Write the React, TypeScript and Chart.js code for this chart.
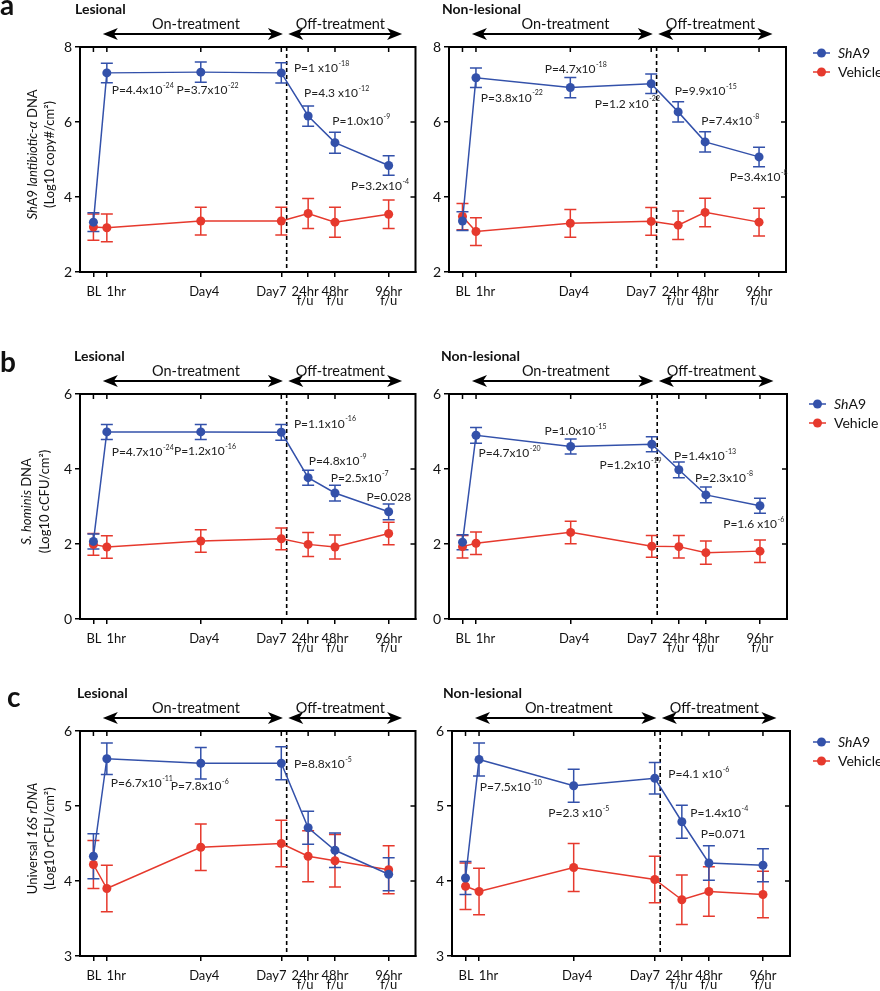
import React, { useEffect, useRef } from "react";
import { Chart, registerables } from "chart.js";
Chart.register(...registerables);

const FONT = "Lato, 'Open Sans', sans-serif";
const BLUE = "#3351aa";
const RED = "#e6392d";
const INK = "#111";

// ---- shared time axis ----
const days = [0, 0.5, 4, 7, 8, 9, 11];
const dayLabels = [["BL"], ["1hr"], ["Day4"], ["Day7"], ["24hr", "f/u"], ["48hr", "f/u"], ["96hr", "f/u"]];

// ---- panel a: ShA9 lantibiotic-alpha DNA ----
const aLesShA9 = [3.33, 7.31, 7.33, 7.31, 6.16, 5.45, 4.84];
const aLesShA9Err = [0.25, 0.26, 0.27, 0.27, 0.27, 0.28, 0.26];
const aLesVehicle = [3.2, 3.18, 3.36, 3.36, 3.56, 3.33, 3.54];
const aLesVehicleErr = [0.35, 0.37, 0.37, 0.37, 0.4, 0.4, 0.38];
const aNonShA9 = [3.36, 7.18, 6.92, 7.02, 6.27, 5.47, 5.07];
const aNonShA9Err = [0.25, 0.26, 0.27, 0.26, 0.27, 0.27, 0.26];
const aNonVehicle = [3.48, 3.08, 3.3, 3.35, 3.25, 3.59, 3.33];
const aNonVehicleErr = [0.35, 0.37, 0.37, 0.37, 0.38, 0.38, 0.37];

// ---- panel b: S. hominis DNA ----
const bLesShA9 = [2.07, 4.99, 4.99, 4.98, 3.77, 3.36, 2.86];
const bLesShA9Err = [0.2, 0.2, 0.2, 0.21, 0.2, 0.21, 0.21];
const bLesVehicle = [1.99, 1.92, 2.08, 2.14, 1.99, 1.92, 2.28];
const bLesVehicleErr = [0.29, 0.3, 0.3, 0.29, 0.32, 0.32, 0.3];
const bNonShA9 = [2.05, 4.9, 4.6, 4.66, 3.98, 3.31, 3.02];
const bNonShA9Err = [0.2, 0.21, 0.2, 0.2, 0.21, 0.21, 0.2];
const bNonVehicle = [1.93, 2.02, 2.31, 1.94, 1.93, 1.77, 1.81];
const bNonVehicleErr = [0.3, 0.3, 0.3, 0.29, 0.3, 0.31, 0.3];

// ---- panel c: Universal 16S rDNA ----
const cLesShA9 = [4.33, 5.63, 5.57, 5.57, 4.71, 4.41, 4.09];
const cLesShA9Err = [0.3, 0.21, 0.21, 0.22, 0.22, 0.23, 0.22];
const cLesVehicle = [4.22, 3.9, 4.45, 4.5, 4.33, 4.27, 4.15];
const cLesVehicleErr = [0.32, 0.31, 0.31, 0.31, 0.34, 0.35, 0.32];
const cNonShA9 = [4.04, 5.62, 5.27, 5.37, 4.79, 4.24, 4.21];
const cNonShA9Err = [0.22, 0.22, 0.22, 0.21, 0.22, 0.23, 0.22];
const cNonVehicle = [3.93, 3.86, 4.18, 4.02, 3.75, 3.86, 3.82];
const cNonVehicleErr = [0.31, 0.31, 0.32, 0.31, 0.33, 0.33, 0.31];

// ---- P-value annotations (text, exponent) ----
const aLesPText = ["P=4.4x10", "P=3.7x10", "P=1 x10", "P=4.3 x10", "P=1.0x10", "P=3.2x10"];
const aLesPExp = ["-24", "-22", "-18", "-12", "-9", "-4"];
const aNonPText = ["P=3.8x10", "P=4.7x10", "P=1.2 x10", "P=9.9x10", "P=7.4x10", "P=3.4x10"];
const aNonPExp = ["-22", "-18", "-22", "-15", "-8", "-8"];
const bLesPText = ["P=4.7x10", "P=1.2x10", "P=1.1x10", "P=4.8x10", "P=2.5x10", "P=0.028"];
const bLesPExp = ["-24", "-16", "-16", "-9", "-7", ""];
const bNonPText = ["P=4.7x10", "P=1.0x10", "P=1.2x10", "P=1.4x10", "P=2.3x10", "P=1.6 x10"];
const bNonPExp = ["-20", "-15", "-19", "-13", "-8", "-6"];
const cLesPText = ["P=6.7x10", "P=7.8x10", "P=8.8x10"];
const cLesPExp = ["-11", "-6", "-5"];
const cNonPText = ["P=7.5x10", "P=2.3 x10", "P=4.1 x10", "P=1.4x10", "P=0.071"];
const cNonPExp = ["-10", "-5", "-6", "-4", ""];

// annotation anchor positions (in axis units), kept apart from the data
const aLesPPos = [[0.68, 6.84], [3.1, 6.84], [7.47, 7.44], [7.85, 6.76], [8.9, 6.02], [9.6, 4.28]];
const aNonPPos = [[0.68, 6.65], [3.05, 7.41], [4.91, 6.49], [7.87, 6.82], [8.86, 6.02], [9.91, 4.52]];
const bLesPPos = [[0.68, 4.44], [3.0, 4.47], [7.47, 5.21], [8.02, 4.2], [8.84, 3.76], [10.17, 3.24]];
const bNonPPos = [[0.59, 4.42], [3.03, 5.02], [5.07, 4.1], [7.82, 4.34], [8.6, 3.76], [9.64, 2.54]];
const cLesPPos = [[0.65, 5.3], [2.88, 5.26], [7.47, 5.56]];
const cNonPPos = [[0.53, 5.25], [3.06, 4.9], [7.5, 5.42], [8.31, 4.9], [8.7, 4.62]];

// layout / style constants
const labelNudge = [0.5, 9.5, 3.5, -10, -3, 0, 0];
const PLOT_TOP = 47;
const PLOT_H = 225;
const CANVAS_H = 312;

type Seg = { t: string; i?: boolean };

interface PanelCfg {
  key: string;
  left: number;
  top: number;
  width: number;
  plotLeft: number;
  plotRight: number;
  yMin: number;
  yMax: number;
  yStep: number;
  shA9: number[];
  shA9Err: number[];
  veh: number[];
  vehErr: number[];
  title: string;
  titleX: number;
  letter?: string;
  letterX?: number;
  letterDy?: number;
  yTitle?: Seg[][];
  yTitleX?: number[];
  legend?: { dx: number; dy1: number; dy2: number };
  pText: string[];
  pExp: string[];
  pPos: number[][];
}

function segWidth(ctx: CanvasRenderingContext2D, segs: Seg[], size: number) {
  let w = 0;
  for (const s of segs) {
    ctx.font = `${s.i ? "italic " : ""}${size}px ${FONT}`;
    w += ctx.measureText(s.t).width;
  }
  return w;
}

function drawSegs(ctx: CanvasRenderingContext2D, segs: Seg[], x: number, y: number, size: number) {
  let cx = x;
  for (const s of segs) {
    ctx.font = `${s.i ? "italic " : ""}${size}px ${FONT}`;
    ctx.fillText(s.t, cx, y);
    cx += ctx.measureText(s.t).width;
  }
}

function arrow(ctx: CanvasRenderingContext2D, x1: number, x2: number, y: number) {
  const L = 15, W = 6, N = 11;
  ctx.beginPath();
  ctx.moveTo(x1 + N - 1, y);
  ctx.lineTo(x2 - N + 1, y);
  ctx.stroke();
  ctx.beginPath();
  ctx.moveTo(x1, y);
  ctx.lineTo(x1 + L, y - W);
  ctx.lineTo(x1 + N, y);
  ctx.lineTo(x1 + L, y + W);
  ctx.closePath();
  ctx.fill();
  ctx.beginPath();
  ctx.moveTo(x2, y);
  ctx.lineTo(x2 - L, y - W);
  ctx.lineTo(x2 - N, y);
  ctx.lineTo(x2 - L, y + W);
  ctx.closePath();
  ctx.fill();
}

const decoPlugin = {
  id: "deco",
  beforeDatasetsDraw(chart: any) {
    const { ctx, chartArea: ca } = chart;
    const xs = chart.scales.x, ys = chart.scales.y;
    ctx.save();
    ctx.strokeStyle = "#000";
    ctx.lineWidth = 1.6;
    ctx.setLineDash([4, 3]);
    const dx = xs.getPixelForValue(7.2);
    ctx.beginPath();
    ctx.moveTo(dx, ca.top);
    ctx.lineTo(dx, ca.bottom);
    ctx.stroke();
    ctx.restore();
    for (let i = chart.data.datasets.length - 1; i >= 0; i--) {
      const ds = chart.data.datasets[i];
      const meta = chart.getDatasetMeta(i);
      ctx.save();
      ctx.strokeStyle = ds.borderColor;
      ctx.lineWidth = 1.5;
      meta.data.forEach((pt: any, j: number) => {
        const v = ds.data[j].y;
        const e = ds.errors[j];
        const yt = ys.getPixelForValue(v + e);
        const yb = ys.getPixelForValue(v - e);
        ctx.beginPath();
        ctx.moveTo(pt.x, yt);
        ctx.lineTo(pt.x, yb);
        ctx.moveTo(pt.x - 6, yt);
        ctx.lineTo(pt.x + 6, yt);
        ctx.moveTo(pt.x - 6, yb);
        ctx.lineTo(pt.x + 6, yb);
        ctx.stroke();
      });
      ctx.restore();
    }
  },
  afterDraw(chart: any, _args: any, opts: any) {
    const cfg: PanelCfg = opts.cfg;
    const { ctx, chartArea: ca } = chart;
    const xs = chart.scales.x, ys = chart.scales.y;
    ctx.save();
    ctx.strokeStyle = "#000";
    ctx.lineWidth = 2;
    ctx.beginPath();
    ctx.moveTo(ca.left - 1, ca.top);
    ctx.lineTo(ca.right, ca.top);
    ctx.lineTo(ca.right, ca.bottom + 1);
    ctx.stroke();
    ctx.lineWidth = 1.5;
    ctx.beginPath();
    for (const d of days) {
      const px = xs.getPixelForValue(d);
      ctx.moveTo(px, ca.top);
      ctx.lineTo(px, ca.top + 5);
    }
    for (let v = cfg.yMin; v <= cfg.yMax + 1e-9; v += cfg.yStep) {
      const py = ys.getPixelForValue(v);
      ctx.moveTo(ca.right, py);
      ctx.lineTo(ca.right - 5, py);
    }
    ctx.stroke();

    // x tick labels at the scale's tick positions
    ctx.fillStyle = INK;
    ctx.textAlign = "center";
    ctx.textBaseline = "alphabetic";
    ctx.font = `13px ${FONT}`;
    days.forEach((d, i) => {
      const px = xs.getPixelForValue(d) + labelNudge[i];
      dayLabels[i].forEach((t, k) => {
        ctx.fillText(t, px, ca.bottom + 24 + k * 8.5);
      });
    });

    ctx.textAlign = "left";
    ctx.font = `bold 14px ${FONT}`;
    ctx.fillText(cfg.title, cfg.titleX, ca.top - 33);
    if (cfg.letter) {
      ctx.font = `bold 28px ${FONT}`;
      ctx.fillText(cfg.letter, cfg.letterX, ca.top + (cfg.letterDy as number));
    }

    ctx.fillStyle = "#000";
    ctx.strokeStyle = "#000";
    ctx.lineWidth = 1.8;
    const ay = ca.top - 13;
    arrow(ctx, xs.getPixelForValue(0.35), xs.getPixelForValue(7.06), ay);
    arrow(ctx, xs.getPixelForValue(7.26), xs.getPixelForValue(11.5), ay);
    ctx.fillStyle = INK;
    ctx.font = `14.5px ${FONT}`;
    ctx.textAlign = "center";
    ctx.fillText("On-treatment", xs.getPixelForValue(3.82), ca.top - 18);
    ctx.fillText("Off-treatment", xs.getPixelForValue(9.2), ca.top - 18);

    if (cfg.yTitle && cfg.yTitleX) {
      const cy = ca.top + PLOT_H / 2 - 5;
      cfg.yTitle.forEach((segs, k) => {
        ctx.save();
        ctx.translate(cfg.yTitleX![k], cy);
        ctx.rotate(-Math.PI / 2);
        ctx.textAlign = "left";
        ctx.textBaseline = "middle";
        const w = segWidth(ctx, segs, 13);
        drawSegs(ctx, segs, -w / 2, 0, 13);
        ctx.restore();
      });
    }

    ctx.fillStyle = "#222";
    ctx.textAlign = "left";
    ctx.textBaseline = "middle";
    cfg.pText.forEach((t, k) => {
      const px = xs.getPixelForValue(cfg.pPos[k][0]);
      const py = ys.getPixelForValue(cfg.pPos[k][1]);
      ctx.font = `12px ${FONT}`;
      ctx.fillText(t, px, py);
      const w = ctx.measureText(t).width;
      if (cfg.pExp[k]) {
        ctx.font = `7px ${FONT}`;
        ctx.fillText(cfg.pExp[k], px + w + 0.5, py - 4.5);
      }
    });

    if (cfg.legend) {
      const lx = ca.right + cfg.legend.dx;
      const rows: [string, Seg[], number][] = [
        [BLUE, [{ t: "Sh", i: true }, { t: "A9" }], ca.top + cfg.legend.dy1],
        [RED, [{ t: "Vehicle" }], ca.top + cfg.legend.dy2],
      ];
      for (const [col, segs, y] of rows) {
        ctx.strokeStyle = col;
        ctx.fillStyle = col;
        ctx.lineWidth = 1.5;
        ctx.beginPath();
        ctx.moveTo(lx, y);
        ctx.lineTo(lx + 17, y);
        ctx.stroke();
        ctx.beginPath();
        ctx.arc(lx + 8.5, y, 4.5, 0, Math.PI * 2);
        ctx.fill();
        ctx.fillStyle = INK;
        ctx.textBaseline = "middle";
        drawSegs(ctx, segs, lx + 25, y, 14);
      }
    }
    ctx.restore();
  },
};

function makeConfig(cfg: PanelCfg): any {
  const mk = (vals: number[]) => days.map((d, i) => ({ x: d, y: vals[i] }));
  const ds = (label: string, vals: number[], errs: number[], col: string) => ({
    label,
    data: mk(vals),
    errors: errs,
    borderColor: col,
    backgroundColor: col,
    pointBackgroundColor: col,
    pointBorderColor: col,
    pointRadius: 4.5,
    pointHoverRadius: 4.5,
    pointBorderWidth: 0,
    borderWidth: 1.5,
    tension: 0,
  });
  return {
    type: "line",
    data: {
      datasets: [ds("ShA9", cfg.shA9, cfg.shA9Err, BLUE), ds("Vehicle", cfg.veh, cfg.vehErr, RED)],
    },
    options: {
      responsive: false,
      maintainAspectRatio: false,
      animation: false,
      events: [],
      layout: { padding: { top: PLOT_TOP, left: 0, right: cfg.width - cfg.plotRight, bottom: 0 } },
      plugins: {
        legend: { display: false },
        tooltip: { enabled: false },
        title: { display: false },
        deco: { cfg },
      },
      scales: {
        x: {
          type: "linear",
          min: -0.5,
          max: 12,
          afterBuildTicks: (s: any) => {
            s.ticks = days.map((v) => ({ value: v }));
          },
          afterFit: (s: any) => {
            s.height = CANVAS_H - PLOT_TOP - PLOT_H;
          },
          ticks: { display: false },
          grid: { display: true, drawOnChartArea: false, drawTicks: true, tickLength: 5, color: "#000", lineWidth: 1.5 },
          border: { display: true, color: "#000", width: 2 },
        },
        y: {
          type: "linear",
          min: cfg.yMin,
          max: cfg.yMax,
          afterFit: (s: any) => {
            s.width = cfg.plotLeft;
          },
          ticks: { stepSize: cfg.yStep, color: INK, font: { family: FONT, size: 14 }, padding: 3 },
          grid: { display: true, drawOnChartArea: false, drawTicks: true, tickLength: 5, color: "#000", lineWidth: 1.5 },
          border: { display: true, color: "#000", width: 2 },
        },
      },
    },
    plugins: [decoPlugin],
  };
}

const panels: PanelCfg[] = [
  {
    key: "aL", left: 0, top: 0, width: 420, plotLeft: 80, plotRight: 418,
    yMin: 2, yMax: 8, yStep: 2,
    shA9: aLesShA9, shA9Err: aLesShA9Err, veh: aLesVehicle, vehErr: aLesVehicleErr,
    title: "Lesional", titleX: 75, letter: "a", letterX: 0, letterDy: -32,
    yTitle: [[{ t: "Sh", i: true }, { t: "A9 " }, { t: "lantibiotic-α", i: true }, { t: " DNA" }], [{ t: "(Log10 copy#/cm²)" }]],
    yTitleX: [33, 50],
    pText: aLesPText, pExp: aLesPExp, pPos: aLesPPos,
  },
  {
    key: "aN", left: 420, top: 0, width: 460, plotLeft: 29, plotRight: 366,
    yMin: 2, yMax: 8, yStep: 2,
    shA9: aNonShA9, shA9Err: aNonShA9Err, veh: aNonVehicle, vehErr: aNonVehicleErr,
    title: "Non-lesional", titleX: 22,
    legend: { dx: 27, dy1: 6, dy2: 25 },
    pText: aNonPText, pExp: aNonPExp, pPos: aNonPPos,
  },
  {
    key: "bL", left: 0, top: 347, width: 420, plotLeft: 80, plotRight: 418,
    yMin: 0, yMax: 6, yStep: 2,
    shA9: bLesShA9, shA9Err: bLesShA9Err, veh: bLesVehicle, vehErr: bLesVehicleErr,
    title: "Lesional", titleX: 74, letter: "b", letterX: 0, letterDy: -22,
    yTitle: [[{ t: "S. hominis", i: true }, { t: " DNA" }], [{ t: "(Log10 cCFU/cm²)" }]],
    yTitleX: [27, 45],
    pText: bLesPText, pExp: bLesPExp, pPos: bLesPPos,
  },
  {
    key: "bN", left: 420, top: 347, width: 460, plotLeft: 29, plotRight: 367,
    yMin: 0, yMax: 6, yStep: 2,
    shA9: bNonShA9, shA9Err: bNonShA9Err, veh: bNonVehicle, vehErr: bNonVehicleErr,
    title: "Non-lesional", titleX: 21,
    legend: { dx: 22, dy1: 10, dy2: 29 },
    pText: bNonPText, pExp: bNonPExp, pPos: bNonPPos,
  },
  {
    key: "cL", left: 0, top: 684, width: 420, plotLeft: 80, plotRight: 418,
    yMin: 3, yMax: 6, yStep: 1,
    shA9: cLesShA9, shA9Err: cLesShA9Err, veh: cLesVehicle, vehErr: cLesVehicleErr,
    title: "Lesional", titleX: 77, letter: "c", letterX: 7, letterDy: -24,
    yTitle: [[{ t: "Universal " }, { t: "16S rDNA", i: true }], [{ t: "(Log10 rCFU/cm²)" }]],
    yTitleX: [33, 50],
    pText: cLesPText, pExp: cLesPExp, pPos: cLesPPos,
  },
  {
    key: "cN", left: 420, top: 684, width: 460, plotLeft: 32, plotRight: 370,
    yMin: 3, yMax: 6, yStep: 1,
    shA9: cNonShA9, shA9Err: cNonShA9Err, veh: cNonVehicle, vehErr: cNonVehicleErr,
    title: "Non-lesional", titleX: 23,
    legend: { dx: 23, dy1: 11, dy2: 30 },
    pText: cNonPText, pExp: cNonPExp, pPos: cNonPPos,
  },
];

function Panel({ cfg }: { cfg: PanelCfg }) {
  const ref = useRef<HTMLCanvasElement>(null);
  useEffect(() => {
    const chart = new Chart(ref.current as HTMLCanvasElement, makeConfig(cfg));
    return () => chart.destroy();
  }, [cfg]);
  return (
    <canvas
      ref={ref}
      width={cfg.width}
      height={CANVAS_H}
      style={{ position: "absolute", left: cfg.left, top: cfg.top, width: cfg.width, height: CANVAS_H }}
    />
  );
}

export default function App() {
  return (
    <div
      style={{
        position: "absolute",
        left: 0,
        top: 0,
        width: 880,
        height: 991,
        overflow: "hidden",
        background: "#fff",
      }}
    >
      {panels.map((p) => (
        <Panel key={p.key} cfg={p} />
      ))}
    </div>
  );
}
